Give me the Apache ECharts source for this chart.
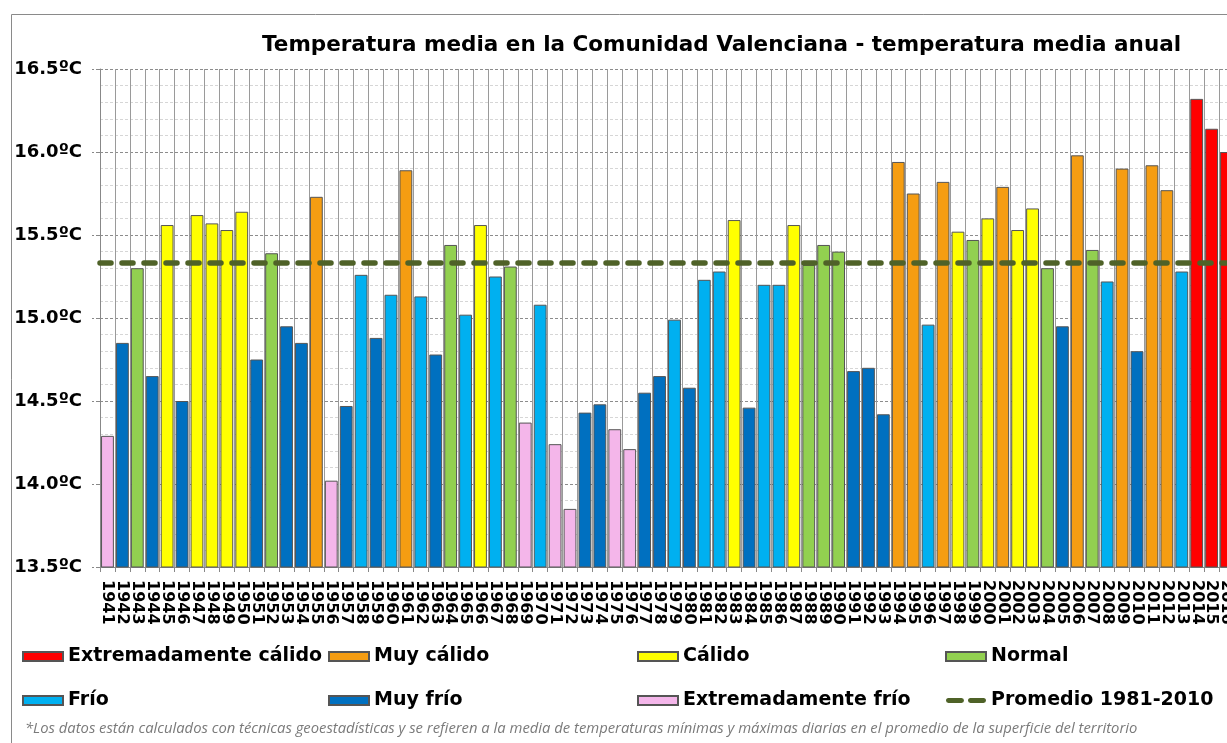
<!DOCTYPE html>
<html>
<head>
<meta charset="utf-8">
<title>Temperatura media anual - Comunidad Valenciana</title>
<script src="https://cdn.jsdelivr.net/npm/echarts@6/dist/echarts.min.js"></script>
<style>
  html, body { margin: 0; padding: 0; background: #fff; }
  #chart { width: 1227px; height: 743px; }
</style>
</head>
<body>
<div id="chart"></div>
<script>
  // años 1941-2016
  var years = [];
  for (var y = 1941; y <= 2016; y++) years.push(String(y));

  // temperatura media anual (ºC)
  var temps = [
    14.29, 14.85, 15.30, 14.65, 15.56, 14.50, 15.62, 15.57, 15.53, 15.64,
    14.75, 15.39, 14.95, 14.85, 15.73, 14.02, 14.47, 15.26, 14.88, 15.14,
    15.89, 15.13, 14.78, 15.44, 15.02, 15.56, 15.25, 15.31, 14.37, 15.08,
    14.24, 13.85, 14.43, 14.48, 14.33, 14.21, 14.55, 14.65, 14.99, 14.58,
    15.23, 15.28, 15.59, 14.46, 15.20, 15.20, 15.56, 15.32, 15.44, 15.40,
    14.68, 14.70, 14.42, 15.94, 15.75, 14.96, 15.82, 15.52, 15.47, 15.60,
    15.79, 15.53, 15.66, 15.30, 14.95, 15.98, 15.41, 15.22, 15.90, 14.80,
    15.92, 15.77, 15.28, 16.32, 16.14, 16.00
  ];

  // caracter de cada año: EC, MC, C, N, F, MF, EF
  var classes = [
    'EF','MF','N','MF','C','MF','C','C','C','C',
    'MF','N','MF','MF','MC','EF','MF','F','MF','F',
    'MC','F','MF','N','F','C','F','N','EF','F',
    'EF','EF','MF','MF','EF','EF','MF','MF','F','MF',
    'F','F','C','MF','F','F','C','N','N','N',
    'MF','MF','MF','MC','MC','F','MC','C','N','C',
    'MC','C','C','N','MF','MC','N','F','MC','MF',
    'MC','MC','F','EC','EC','EC'
  ];

  var classCodes  = ['EC', 'MC', 'C', 'N', 'F', 'MF', 'EF'];
  var classNames  = ['Extremadamente cálido', 'Muy cálido', 'Cálido', 'Normal', 'Frío', 'Muy frío', 'Extremadamente frío'];
  var classColors = ['#ff0000', '#f59d12', '#ffff00', '#92d050', '#00b0f0', '#0070c0', '#f4b6ea'];

  var avgName = 'Promedio 1981-2010';
  var avgValue = 15.33;

  var yTicks = [13.5, 14.0, 14.5, 15.0, 15.5, 16.0, 16.5];

  var boldFont = '"DejaVu Sans", Verdana, sans-serif';
  var avgColor = '#4f6228';

  var series = classCodes.map(function (code, i) {
    return {
      name: classNames[i],
      type: 'bar',
      barWidth: '86%',
      barGap: '-100%',
      itemStyle: { color: classColors[i], borderColor: '#555', borderWidth: 1 },
      data: temps.map(function (t, k) { return classes[k] === code ? t : '-'; })
    };
  });

  series.push({
    name: avgName,
    type: 'line',
    data: [],
    symbol: 'none',
    lineStyle: { color: avgColor, width: 5.5, type: [11, 11], cap: 'round' },
    itemStyle: { color: avgColor },
    markLine: {
      silent: true,
      symbol: ['none', 'none'],
      label: { show: false },
      lineStyle: { color: avgColor, width: 5.5, type: [11, 11], cap: 'round' },
      data: [{ yAxis: avgValue }]
    }
  });

  var legendText = { fontFamily: boldFont, fontWeight: 'bold', fontSize: 19, color: '#000' };
  // icono de dos trazos para la linea del promedio
  var dashIcon = 'path://M0,0h0.01v0.01h-0.01z M2.5,2h13a2.5,2.5 0 0 1 0,5h-13a2.5,2.5 0 0 1 0,-5z M24.5,2h13a2.5,2.5 0 0 1 0,5h-13a2.5,2.5 0 0 1 0,-5z M40,8.99h0.01v0.01h-0.01z';

  function legendCol(left, names) {
    return {
      orient: 'vertical',
      left: left,
      top: 647,
      padding: 0,
      itemGap: 25,
      itemWidth: 40,
      itemHeight: 9,
      icon: 'rect',
      selectedMode: false,
      textStyle: legendText,
      data: names
    };
  }

  var chart = echarts.init(document.getElementById('chart'));
  chart.setOption({
    backgroundColor: '#fff',
    animation: false,
    title: {
      text: 'Temperatura media en la Comunidad Valenciana - temperatura media anual',
      left: 262,
      top: 34,
      padding: 0,
      textStyle: { fontFamily: boldFont, fontWeight: 'bold', fontSize: 21.5, color: '#000' }
    },
    legend: [
      legendCol(22, [classNames[0], classNames[4]]),
      legendCol(328, [classNames[1], classNames[5]]),
      legendCol(637, [classNames[2], classNames[6]]),
      legendCol(945, [classNames[3], { name: avgName, icon: dashIcon, itemStyle: { color: avgColor, borderWidth: 0 } }])
    ],
    grid: { left: 100, width: 1134, top: 69, bottom: 176, outerBoundsMode: 'none' },
    xAxis: {
      type: 'category',
      data: years,
      boundaryGap: true,
      axisLine: { lineStyle: { color: '#888' } },
      axisTick: { show: true, length: 5, interval: 0, lineStyle: { color: '#888' } },
      splitLine: { show: true, interval: 0, lineStyle: { color: '#9a9a9a', width: 1 } },
      axisLabel: {
        interval: 0,
        rotate: -90,
        margin: 13,
        fontFamily: boldFont,
        fontWeight: 'bold',
        fontSize: 16,
        color: '#000'
      }
    },
    yAxis: {
      type: 'value',
      min: yTicks[0],
      max: yTicks[yTicks.length - 1],
      interval: 0.5,
      axisLine: { show: true, lineStyle: { color: '#888' } },
      axisTick: { show: true, length: 8, lineStyle: { color: '#888', type: 'dashed' } },
      splitLine: { show: true, lineStyle: { color: '#8c8c8c', type: [3, 2], width: 1 } },
      minorTick: { show: false, splitNumber: 5 },
      minorSplitLine: { show: true, lineStyle: { color: '#d6d6d6', type: [3, 2], width: 1 } },
      axisLabel: {
        margin: 18,
        fontFamily: boldFont,
        fontWeight: 'bold',
        fontSize: 18,
        color: '#000',
        formatter: function (v) { return v.toFixed(1) + 'ºC'; }
      }
    },
    graphic: [
      {
        type: 'rect',
        left: 9, top: 12,
        shape: { width: 1240, height: 760 },
        style: { fill: 'none', stroke: '#8a8a8a', lineWidth: 1 },
        silent: true
      },
      {
        type: 'text',
        left: 25, top: 721,
        style: {
          text: '*Los datos están calculados con técnicas geoestadísticas y se refieren a la media de temperaturas mínimas y máximas diarias en el promedio de la superficie del territorio',
          font: 'italic 14.8px "Open Sans", sans-serif',
          fill: '#7a7a7a'
        }
      }
    ],
    series: series
  });

  window.onresize = function () {
    chart.resize();
  };
</script>
</body>
</html>
